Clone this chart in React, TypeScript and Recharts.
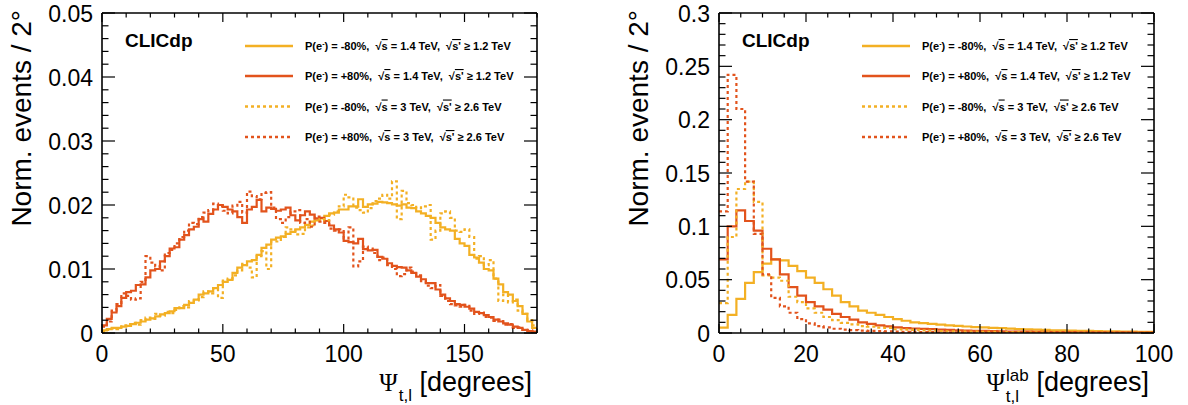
import React from 'react';
import { ComposedChart, Line, XAxis, YAxis, Legend } from 'recharts';

const SANS = '"Liberation Sans", Arial, Helvetica, sans-serif';
const SERIF = '"Liberation Serif", "DejaVu Serif", serif';
const ORANGE = '#f3b024';
const RED = '#e2531c';

// ---------- Left panel: Psi_{t,l}, 2 degree bins, 0..180 ----------
const LEFT_BIN = 2;
const LEFT_XMAX = 180;
const LEFT_YMAX = 0.05;
// P(e-) = -80%, sqrt(s) = 1.4 TeV
const LEFT_M80_14 = [
  0.0004, 0.0006, 0.0008, 0.0008, 0.0010, 0.0011, 0.0014, 0.0016, 0.0018, 0.0021,
  0.0023, 0.0026, 0.0029, 0.0031, 0.0034, 0.0039, 0.0039, 0.0044, 0.0047, 0.0052,
  0.0060, 0.0062, 0.0065, 0.0070, 0.0075, 0.0080, 0.0083, 0.0094, 0.0102, 0.0106,
  0.0112, 0.0114, 0.0122, 0.0133, 0.0138, 0.0146, 0.0149, 0.0151, 0.0155, 0.0158,
  0.0162, 0.0165, 0.0169, 0.0174, 0.0176, 0.0179, 0.0183, 0.0187, 0.0188, 0.0193,
  0.0193, 0.0198, 0.0198, 0.0209, 0.0197, 0.0201, 0.0202, 0.0205, 0.0204, 0.0203,
  0.0201, 0.0199, 0.0201, 0.0196, 0.0195, 0.0190, 0.0187, 0.0183, 0.0180, 0.0172,
  0.0165, 0.0162, 0.0160, 0.0147, 0.0140, 0.0136, 0.0122, 0.0118, 0.0110, 0.0100,
  0.0098, 0.0085, 0.0076, 0.0064, 0.0060, 0.0050, 0.0042, 0.0030, 0.0018, 0.0008,
];
// P(e-) = +80%, sqrt(s) = 1.4 TeV
const LEFT_P80_14 = [
  0.0012, 0.0022, 0.0032, 0.0042, 0.0055, 0.0064, 0.0066, 0.0075, 0.0076, 0.0087,
  0.0098, 0.0100, 0.0112, 0.0120, 0.0132, 0.0134, 0.0146, 0.0153, 0.0162, 0.0166,
  0.0178, 0.0174, 0.0186, 0.0193, 0.0200, 0.0197, 0.0193, 0.0190, 0.0181, 0.0172,
  0.0193, 0.0197, 0.0208, 0.0190, 0.0196, 0.0194, 0.0191, 0.0193, 0.0196, 0.0184,
  0.0176, 0.0184, 0.0190, 0.0185, 0.0179, 0.0180, 0.0175, 0.0168, 0.0162, 0.0157,
  0.0144, 0.0142, 0.0140, 0.0147, 0.0131, 0.0129, 0.0130, 0.0119, 0.0116, 0.0109,
  0.0105, 0.0103, 0.0102, 0.0098, 0.0094, 0.0088, 0.0084, 0.0078, 0.0078, 0.0068,
  0.0060, 0.0054, 0.0050, 0.0045, 0.0044, 0.0041, 0.0038, 0.0033, 0.0031, 0.0028,
  0.0025, 0.0021, 0.0018, 0.0015, 0.0013, 0.0010, 0.0008, 0.0005, 0.0003, 0.0002,
];
// P(e-) = -80%, sqrt(s) = 3 TeV
const LEFT_M80_3 = [
  0.0002, 0.0005, 0.0007, 0.0006, 0.0012, 0.0014, 0.0016, 0.0013, 0.0020, 0.0024,
  0.0022, 0.0030, 0.0027, 0.0033, 0.0031, 0.0036, 0.0042, 0.0040, 0.0050, 0.0051,
  0.0056, 0.0065, 0.0062, 0.0070, 0.0055, 0.0082, 0.0085, 0.0090, 0.0098, 0.0108,
  0.0102, 0.0087, 0.0120, 0.0128, 0.0100, 0.0143, 0.0143, 0.0150, 0.0165, 0.0162,
  0.0154, 0.0155, 0.0165, 0.0168, 0.0175, 0.0178, 0.0176, 0.0185, 0.0190, 0.0198,
  0.0216, 0.0212, 0.0196, 0.0192, 0.0188, 0.0195, 0.0206, 0.0210, 0.0216, 0.0210,
  0.0237, 0.0178, 0.0222, 0.0203, 0.0200, 0.0195, 0.0198, 0.0200, 0.0146, 0.0160,
  0.0187, 0.0190, 0.0180, 0.0160, 0.0158, 0.0162, 0.0150, 0.0116, 0.0120, 0.0106,
  0.0114, 0.0085, 0.0050, 0.0060, 0.0048, 0.0052, 0.0035, 0.0030, 0.0020, 0.0012,
];
// P(e-) = +80%, sqrt(s) = 3 TeV
const LEFT_P80_3 = [
  0.0010, 0.0018, 0.0035, 0.0045, 0.0062, 0.0058, 0.0052, 0.0054, 0.0080, 0.0120,
  0.0110, 0.0104, 0.0098, 0.0125, 0.0130, 0.0140, 0.0150, 0.0160, 0.0172, 0.0170,
  0.0181, 0.0188, 0.0192, 0.0202, 0.0198, 0.0191, 0.0187, 0.0199, 0.0205, 0.0188,
  0.0221, 0.0214, 0.0209, 0.0219, 0.0220, 0.0196, 0.0178, 0.0172, 0.0181, 0.0190,
  0.0192, 0.0172, 0.0178, 0.0166, 0.0182, 0.0174, 0.0172, 0.0163, 0.0160, 0.0162,
  0.0148, 0.0165, 0.0104, 0.0112, 0.0135, 0.0132, 0.0125, 0.0114, 0.0118, 0.0106,
  0.0100, 0.0089, 0.0092, 0.0102, 0.0096, 0.0090, 0.0081, 0.0074, 0.0070, 0.0075,
  0.0058, 0.0050, 0.0045, 0.0043, 0.0041, 0.0044, 0.0035, 0.0030, 0.0032, 0.0025,
  0.0024, 0.0019, 0.0021, 0.0013, 0.0014, 0.0008, 0.0009, 0.0005, 0.0004, 0.0002,
];
const LEFT_X_MAJOR = [0, 50, 100, 150];
const LEFT_X_MINOR_STEP = 10;
const LEFT_Y_MAJOR = [0, 0.01, 0.02, 0.03, 0.04, 0.05];
const LEFT_Y_MINOR_STEP = 0.002;

// ---------- Right panel: Psi^{lab}_{t,l}, 2 degree bins, 0..100 ----------
const RIGHT_BIN = 2;
const RIGHT_XMAX = 100;
const RIGHT_YMAX = 0.3;
const RIGHT_M80_14 = [
  0.005, 0.017, 0.032, 0.047, 0.057, 0.065, 0.069, 0.068, 0.063, 0.058,
  0.052, 0.047, 0.041, 0.035, 0.029, 0.025, 0.021, 0.019, 0.017, 0.015,
  0.013, 0.0115, 0.010, 0.0092, 0.0085, 0.0078, 0.0071, 0.0066, 0.0061, 0.0056,
  0.0052, 0.0048, 0.0045, 0.0041, 0.0037, 0.0034, 0.0031, 0.0029, 0.0026, 0.0024,
  0.0022, 0.0021, 0.0019, 0.0017, 0.0016, 0.0015, 0.0013, 0.0012, 0.0011, 0.0010,
];
const RIGHT_P80_14 = [
  0.069, 0.100, 0.115, 0.105, 0.096, 0.079, 0.069, 0.055, 0.043, 0.035,
  0.029, 0.025, 0.022, 0.018, 0.015, 0.0125, 0.010, 0.0085, 0.0072, 0.0062,
  0.0053, 0.0046, 0.0042, 0.0039, 0.0036, 0.0032, 0.0029, 0.0026, 0.0023, 0.0021,
  0.0019, 0.0017, 0.0016, 0.0014, 0.0013, 0.0012, 0.0011, 0.0010, 0.0009, 0.0009,
  0.0008, 0.0007, 0.0007, 0.0006, 0.0006, 0.0005, 0.0005, 0.0004, 0.0004, 0.0004,
];
const RIGHT_M80_3 = [
  0.028, 0.090, 0.135, 0.142, 0.123, 0.054, 0.052, 0.049, 0.034, 0.029,
  0.023, 0.019, 0.015, 0.012, 0.0095, 0.008, 0.0065, 0.0060, 0.0050, 0.0048,
  0.0035, 0.0032, 0.0030, 0.0025, 0.0022, 0.0018, 0.0016, 0.0014, 0.0013, 0.0012,
  0.0011, 0.0010, 0.0009, 0.0008, 0.0008, 0.0007, 0.0006, 0.0006, 0.0005, 0.0005,
  0.0004, 0.0004, 0.0004, 0.0003, 0.0003, 0.0003, 0.0002, 0.0002, 0.0002, 0.0002,
];
const RIGHT_P80_3 = [
  0.114, 0.242, 0.210, 0.142, 0.093, 0.055, 0.033, 0.025, 0.019, 0.013,
  0.009, 0.0065, 0.0052, 0.0040, 0.0032, 0.0027, 0.0023, 0.0020, 0.0017, 0.0015,
  0.0013, 0.0011, 0.0010, 0.0009, 0.0008, 0.0007, 0.0006, 0.0006, 0.0005, 0.0005,
  0.0004, 0.0004, 0.0003, 0.0003, 0.0003, 0.0003, 0.0002, 0.0002, 0.0002, 0.0002,
  0.0002, 0.0001, 0.0001, 0.0001, 0.0001, 0.0001, 0.0001, 0.0001, 0.0001, 0.0001,
];
const RIGHT_X_MAJOR = [0, 20, 40, 60, 80, 100];
const RIGHT_X_MINOR_STEP = 5;
const RIGHT_Y_MAJOR = [0, 0.05, 0.1, 0.15, 0.2, 0.25, 0.3];
const RIGHT_Y_MINOR_STEP = 0.01;

// ---------- Series legend info ----------
const SERIES_POL = ['-80%', '+80%', '-80%', '+80%'];
const SERIES_SQRTS = ['1.4', '1.4', '3', '3'];
const SERIES_CUT = ['1.2', '1.2', '2.6', '2.6'];
const SERIES_COLOR = [ORANGE, RED, ORANGE, RED];
const SERIES_DASH = [undefined, undefined, '3 3', '3 3'];
const SERIES_KEYS = ['s0', 's1', 's2', 's3'];

const W = 594;
const H = 405;
const PLOT_TOP = 13;
const PLOT_BOTTOM = 333;

function range(max: number, step: number) {
  const n = Math.round(max / step);
  return Array.from({ length: n + 1 }, (_, i) => +(i * step).toFixed(6));
}
function isMajor(majors: number[], v: number) {
  return majors.some((m) => Math.abs(m - v) < 1e-7);
}
function fmtNum(v: number) {
  return v === 0 ? '0' : String(parseFloat(v.toFixed(3)));
}

function buildRows(binWidth: number, series: number[][]) {
  const n = series[0].length;
  const rows: any[] = [];
  for (let k = 0; k <= n; k++) {
    const i = Math.min(k, n - 1);
    const row: any = { x: k * binWidth };
    series.forEach((s, j) => {
      row[SERIES_KEYS[j]] = s[i];
    });
    rows.push(row);
  }
  return rows;
}

const XMAJ = 9;
const XMIN = 4.5;
const YMAJ = 13;
const YMIN = 6.5;
const TICK_W = 1.2;

const bottomTick = (majors: number[]) => (p: any) => {
  const v = p.payload.value;
  const mj = isMajor(majors, v);
  return (
    <g>
      <line x1={p.x} x2={p.x} y1={p.y} y2={p.y - (mj ? XMAJ : XMIN)} stroke="#000" strokeWidth={TICK_W} />
      {mj && (
        <text x={p.x} y={p.y + 29} textAnchor="middle" fontFamily={SANS} fontSize={23} fill="#000">
          {fmtNum(v)}
        </text>
      )}
    </g>
  );
};
const topTick = (majors: number[]) => (p: any) => {
  const v = p.payload.value;
  const mj = isMajor(majors, v);
  return <line x1={p.x} x2={p.x} y1={p.y} y2={p.y + (mj ? XMAJ : XMIN)} stroke="#000" strokeWidth={TICK_W} />;
};
const leftTick = (majors: number[]) => (p: any) => {
  const v = p.payload.value;
  const mj = isMajor(majors, v);
  return (
    <g>
      <line x1={p.x} x2={p.x + (mj ? YMAJ : YMIN)} y1={p.y} y2={p.y} stroke="#000" strokeWidth={TICK_W} />
      {mj && (
        <text x={p.x - 9} y={p.y + 8.5} textAnchor="end" fontFamily={SANS} fontSize={23} fill="#000">
          {fmtNum(v)}
        </text>
      )}
    </g>
  );
};
const rightTick = (majors: number[]) => (p: any) => {
  const v = p.payload.value;
  const mj = isMajor(majors, v);
  return <line x1={p.x} x2={p.x - (mj ? YMAJ : YMIN)} y1={p.y} y2={p.y} stroke="#000" strokeWidth={TICK_W} />;
};

function LegendRow({ i, plotLeft }: { i: number; plotLeft: number }) {
  const rowY = PLOT_TOP + [33, 63, 93.5, 124][i];
  const tx = plotLeft + 203;
  return (
    <g>
      <line
        x1={plotLeft + 143}
        x2={plotLeft + 191}
        y1={rowY}
        y2={rowY}
        stroke={SERIES_COLOR[i]}
        strokeWidth={2.4}
        strokeDasharray={SERIES_DASH[i]}
      />
      <text
        x={tx}
        y={rowY + 4}
        fontFamily={SANS}
        fontWeight="bold"
        fontSize={11}
        fill="#000"
        xmlSpace="preserve"
        style={{ whiteSpace: 'pre' }}
      >
        <tspan>P(e</tspan>
        <tspan dy={-4.5} fontSize={7}>-</tspan>
        <tspan dy={4.5}>{`) = ${SERIES_POL[i]},  √`}</tspan>
        <tspan style={{ textDecoration: 'overline' }}>s</tspan>
        <tspan>{` = ${SERIES_SQRTS[i]} TeV,  √`}</tspan>
        <tspan style={{ textDecoration: 'overline' }}>s'</tspan>
        <tspan>{` ≥ ${SERIES_CUT[i]} TeV`}</tspan>
      </text>
    </g>
  );
}

function Overlay({ plotLeft, plotRight, lab }: { plotLeft: number; plotRight: number; lab: boolean }) {
  const titleBase = 391;
  return (
    <svg width={W} height={H} style={{ position: 'absolute', left: 0, top: 0, overflow: 'visible' }}>
      <text x={plotLeft + 23} y={47} fontFamily={SANS} fontWeight="bold" fontSize={19} fill="#000">
        CLICdp
      </text>
      {[0, 1, 2, 3].map((i) => (
        <LegendRow key={i} i={i} plotLeft={plotLeft} />
      ))}
      <text
        transform="rotate(-90)"
        x={-10}
        y={plotLeft - 71}
        textAnchor="end"
        fontFamily={SANS}
        fontSize={28}
        fill="#000"
      >
        Norm. events / 2°
      </text>
      <text
        x={plotRight - 5}
        y={titleBase}
        textAnchor="end"
        fontFamily={SANS}
        fontSize={27}
        fill="#000"
        xmlSpace="preserve"
        style={{ whiteSpace: 'pre' }}
      >
        <tspan fontFamily={SERIF} fontSize={25}>Ψ</tspan>
        {lab ? (
          <>
            <tspan fontSize={17} dx={1} dy={-10}>lab</tspan>
            <tspan fontSize={17} dx={-23} dy={21}>t,l</tspan>
            <tspan dx={10} dy={-11}> [degrees]</tspan>
          </>
        ) : (
          <>
            <tspan fontSize={17} dx={1} dy={10}>t,l</tspan>
            <tspan dy={-10}> [degrees]</tspan>
          </>
        )}
      </text>
    </svg>
  );
}

type PanelProps = {
  plotLeft: number;
  plotRight: number;
  binWidth: number;
  xMax: number;
  yMax: number;
  series: number[][];
  xMajor: number[];
  xMinorStep: number;
  yMajor: number[];
  yMinorStep: number;
  lab: boolean;
};

function Panel(props: PanelProps) {
  const { plotLeft, plotRight, binWidth, xMax, yMax, series, xMajor, xMinorStep, yMajor, yMinorStep, lab } = props;
  const rows = buildRows(binWidth, series);
  const xTicks = range(xMax, xMinorStep);
  const yTicks = range(yMax, yMinorStep);
  const axisLine = { stroke: '#000', strokeWidth: 1.6 };
  return (
    <ComposedChart
      width={W}
      height={H}
      data={rows}
      margin={{ left: plotLeft - 1, right: W - plotRight - 1, top: PLOT_TOP - 1, bottom: H - PLOT_BOTTOM - 1 }}
    >
      <XAxis
        xAxisId="b"
        dataKey="x"
        type="number"
        domain={[0, xMax]}
        allowDataOverflow
        ticks={xTicks}
        interval={0}
        height={1}
        tickSize={0}
        tickMargin={0}
        tickLine={false}
        axisLine={axisLine}
        tick={bottomTick(xMajor)}
        orientation="bottom"
      />
      <XAxis
        xAxisId="t"
        dataKey="x"
        type="number"
        domain={[0, xMax]}
        allowDataOverflow
        ticks={xTicks}
        interval={0}
        height={1}
        tickSize={0}
        tickMargin={0}
        tickLine={false}
        axisLine={axisLine}
        tick={topTick(xMajor)}
        orientation="top"
      />
      <YAxis
        yAxisId="l"
        type="number"
        domain={[0, yMax]}
        allowDataOverflow
        ticks={yTicks}
        interval={0}
        width={1}
        tickSize={0}
        tickMargin={0}
        tickLine={false}
        axisLine={axisLine}
        tick={leftTick(yMajor)}
        orientation="left"
      />
      <YAxis
        yAxisId="r"
        type="number"
        domain={[0, yMax]}
        allowDataOverflow
        ticks={yTicks}
        interval={0}
        width={1}
        tickSize={0}
        tickMargin={0}
        tickLine={false}
        axisLine={axisLine}
        tick={rightTick(yMajor)}
        orientation="right"
      />
      {SERIES_KEYS.map((k, i) => (
        <Line
          key={k}
          xAxisId="b"
          yAxisId="l"
          dataKey={k}
          type="stepAfter"
          stroke={SERIES_COLOR[i]}
          strokeWidth={2.2}
          strokeDasharray={SERIES_DASH[i]}
          dot={false}
          activeDot={false}
          isAnimationActive={false}
        />
      ))}
      <Legend
        layout="horizontal"
        verticalAlign="middle"
        align="center"
        wrapperStyle={{ left: 0, top: 0, width: W, height: H, pointerEvents: 'none' }}
        content={() => <Overlay plotLeft={plotLeft} plotRight={plotRight} lab={lab} />}
      />
    </ComposedChart>
  );
}

export default function App() {
  return (
    <div style={{ position: 'absolute', left: 0, top: 0, width: 1188, height: 405, background: '#fff' }}>
      <div style={{ position: 'absolute', left: 0, top: 0 }}>
        <Panel
          plotLeft={102}
          plotRight={537}
          binWidth={LEFT_BIN}
          xMax={LEFT_XMAX}
          yMax={LEFT_YMAX}
          series={[LEFT_M80_14, LEFT_P80_14, LEFT_M80_3, LEFT_P80_3]}
          xMajor={LEFT_X_MAJOR}
          xMinorStep={LEFT_X_MINOR_STEP}
          yMajor={LEFT_Y_MAJOR}
          yMinorStep={LEFT_Y_MINOR_STEP}
          lab={false}
        />
      </div>
      <div style={{ position: 'absolute', left: 594, top: 0 }}>
        <Panel
          plotLeft={125}
          plotRight={560}
          binWidth={RIGHT_BIN}
          xMax={RIGHT_XMAX}
          yMax={RIGHT_YMAX}
          series={[RIGHT_M80_14, RIGHT_P80_14, RIGHT_M80_3, RIGHT_P80_3]}
          xMajor={RIGHT_X_MAJOR}
          xMinorStep={RIGHT_X_MINOR_STEP}
          yMajor={RIGHT_Y_MAJOR}
          yMinorStep={RIGHT_Y_MINOR_STEP}
          lab={true}
        />
      </div>
    </div>
  );
}
